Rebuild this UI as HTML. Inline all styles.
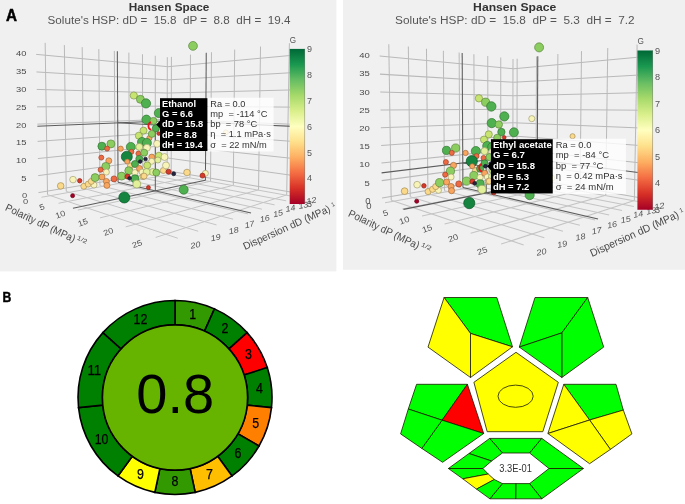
<!DOCTYPE html>
<html><head><meta charset="utf-8"><style>
html,body{margin:0;padding:0;background:#fff;}
body{width:685px;height:504px;overflow:hidden;position:relative;font-family:"Liberation Sans",sans-serif;}
svg.root{position:absolute;left:0;top:0;filter:blur(0.35px);}
svg.ch{filter:blur(0.3px);}
</style></head><body>
<svg class="root" width="685" height="504" viewBox="0 0 685 504" font-family="Liberation Sans, sans-serif">
<rect x="0" y="0" width="336.4" height="271.4" fill="#f0f0f0"/>
<rect x="343" y="0" width="342" height="269.8" fill="#f0f0f0"/>
<g>
<text x="169.1" y="10.9" font-size="10" fill="#333" font-weight="bold" text-anchor="middle" textLength="80.6" lengthAdjust="spacingAndGlyphs">Hansen Space</text>
<text x="47.6" y="23.6" font-size="10" fill="#555" textLength="242.8" lengthAdjust="spacingAndGlyphs" xml:space="preserve">Solute's HSP: dD =  15.8  dP =  8.8  dH =  19.4</text>
<svg class="ch" x="0" y="0" width="336" height="271" overflow="hidden">
<line x1="167.17" y1="173.78" x2="167.31" y2="57.16" stroke="#b9b9b9" stroke-width="1.0"/>
<line x1="155.32" y1="175.85" x2="155.27" y2="55.74" stroke="#b9b9b9" stroke-width="1.0"/>
<line x1="142.74" y1="178.05" x2="142.47" y2="54.24" stroke="#b9b9b9" stroke-width="1.0"/>
<line x1="129.37" y1="180.38" x2="128.86" y2="52.64" stroke="#b9b9b9" stroke-width="1.0"/>
<line x1="115.13" y1="182.87" x2="114.34" y2="50.94" stroke="#b9b9b9" stroke-width="1.0"/>
<line x1="99.93" y1="185.53" x2="98.82" y2="49.12" stroke="#b9b9b9" stroke-width="1.0"/>
<line x1="83.67" y1="188.37" x2="82.20" y2="47.17" stroke="#b9b9b9" stroke-width="1.0"/>
<line x1="66.24" y1="191.41" x2="64.36" y2="45.07" stroke="#b9b9b9" stroke-width="1.0"/>
<line x1="47.50" y1="194.68" x2="45.15" y2="42.82" stroke="#b9b9b9" stroke-width="1.0"/>
<line x1="167.95" y1="170.90" x2="38.48" y2="192.62" stroke="#b9b9b9" stroke-width="1.0"/>
<line x1="167.97" y1="158.04" x2="38.19" y2="175.63" stroke="#b9b9b9" stroke-width="1.0"/>
<line x1="167.99" y1="145.13" x2="37.90" y2="158.55" stroke="#b9b9b9" stroke-width="1.0"/>
<line x1="168.00" y1="132.18" x2="37.62" y2="141.39" stroke="#b9b9b9" stroke-width="1.0"/>
<line x1="168.02" y1="119.18" x2="37.33" y2="124.15" stroke="#b9b9b9" stroke-width="1.0"/>
<line x1="168.04" y1="106.13" x2="37.04" y2="106.83" stroke="#b9b9b9" stroke-width="1.0"/>
<line x1="168.06" y1="93.04" x2="36.75" y2="89.42" stroke="#b9b9b9" stroke-width="1.0"/>
<line x1="168.07" y1="79.90" x2="36.45" y2="71.93" stroke="#b9b9b9" stroke-width="1.0"/>
<line x1="168.09" y1="66.71" x2="36.16" y2="54.36" stroke="#b9b9b9" stroke-width="1.0"/>
<line x1="171.20" y1="174.23" x2="171.41" y2="56.87" stroke="#b9b9b9" stroke-width="1.0"/>
<line x1="189.95" y1="177.59" x2="190.48" y2="54.66" stroke="#b9b9b9" stroke-width="1.0"/>
<line x1="210.55" y1="181.27" x2="211.48" y2="52.23" stroke="#b9b9b9" stroke-width="1.0"/>
<line x1="233.29" y1="185.35" x2="234.70" y2="49.54" stroke="#b9b9b9" stroke-width="1.0"/>
<line x1="258.52" y1="189.86" x2="260.52" y2="46.55" stroke="#b9b9b9" stroke-width="1.0"/>
<line x1="286.69" y1="194.91" x2="289.40" y2="43.21" stroke="#b9b9b9" stroke-width="1.0"/>
<line x1="167.95" y1="170.90" x2="297.74" y2="193.24" stroke="#b9b9b9" stroke-width="1.0"/>
<line x1="167.97" y1="158.04" x2="298.07" y2="176.19" stroke="#b9b9b9" stroke-width="1.0"/>
<line x1="167.99" y1="145.13" x2="298.40" y2="159.06" stroke="#b9b9b9" stroke-width="1.0"/>
<line x1="168.00" y1="132.18" x2="298.73" y2="141.85" stroke="#b9b9b9" stroke-width="1.0"/>
<line x1="168.02" y1="119.18" x2="299.07" y2="124.56" stroke="#b9b9b9" stroke-width="1.0"/>
<line x1="168.04" y1="106.13" x2="299.41" y2="107.19" stroke="#b9b9b9" stroke-width="1.0"/>
<line x1="168.06" y1="93.04" x2="299.75" y2="89.73" stroke="#b9b9b9" stroke-width="1.0"/>
<line x1="168.07" y1="79.90" x2="300.09" y2="72.19" stroke="#b9b9b9" stroke-width="1.0"/>
<line x1="168.09" y1="66.71" x2="300.43" y2="54.56" stroke="#b9b9b9" stroke-width="1.0"/>
<line x1="167.17" y1="173.78" x2="296.97" y2="197.11" stroke="#c4c4c4" stroke-width="1.0"/>
<line x1="155.32" y1="175.85" x2="286.23" y2="200.82" stroke="#c4c4c4" stroke-width="1.0"/>
<line x1="142.74" y1="178.05" x2="274.59" y2="204.84" stroke="#c4c4c4" stroke-width="1.0"/>
<line x1="129.37" y1="180.38" x2="261.95" y2="209.20" stroke="#c4c4c4" stroke-width="1.0"/>
<line x1="115.13" y1="182.87" x2="248.17" y2="213.96" stroke="#c4c4c4" stroke-width="1.0"/>
<line x1="99.93" y1="185.53" x2="233.08" y2="219.17" stroke="#c4c4c4" stroke-width="1.0"/>
<line x1="83.67" y1="188.37" x2="216.49" y2="224.90" stroke="#c4c4c4" stroke-width="1.0"/>
<line x1="66.24" y1="191.41" x2="198.16" y2="231.23" stroke="#c4c4c4" stroke-width="1.0"/>
<line x1="47.50" y1="194.68" x2="177.81" y2="238.26" stroke="#c4c4c4" stroke-width="1.0"/>
<line x1="171.20" y1="174.23" x2="41.44" y2="197.27" stroke="#c4c4c4" stroke-width="1.0"/>
<line x1="189.95" y1="177.59" x2="58.48" y2="203.26" stroke="#c4c4c4" stroke-width="1.0"/>
<line x1="210.55" y1="181.27" x2="77.84" y2="210.07" stroke="#c4c4c4" stroke-width="1.0"/>
<line x1="233.29" y1="185.35" x2="100.01" y2="217.87" stroke="#c4c4c4" stroke-width="1.0"/>
<line x1="258.52" y1="189.86" x2="125.67" y2="226.89" stroke="#c4c4c4" stroke-width="1.0"/>
<line x1="286.69" y1="194.91" x2="155.70" y2="237.44" stroke="#c4c4c4" stroke-width="1.0"/>
<line x1="168.02" y1="120.74" x2="37.36" y2="126.23" stroke="#5c5c5c" stroke-width="1.05"/>
<line x1="118.06" y1="182.36" x2="117.32" y2="51.29" stroke="#5c5c5c" stroke-width="1.05"/>
<line x1="168.02" y1="120.74" x2="299.03" y2="126.64" stroke="#5c5c5c" stroke-width="1.05"/>
<line x1="205.42" y1="180.36" x2="206.25" y2="52.83" stroke="#5c5c5c" stroke-width="1.05"/>
<line x1="205.42" y1="180.36" x2="72.96" y2="208.35" stroke="#5c5c5c" stroke-width="1.05"/>
<line x1="118.06" y1="182.36" x2="251.03" y2="212.98" stroke="#5c5c5c" stroke-width="1.05"/>
<line x1="155.30" y1="125.02" x2="155.33" y2="190.94" stroke="#5c5c5c" stroke-width="1.05"/>
<line x1="155.30" y1="125.02" x2="117.72" y2="122.85" stroke="#5c5c5c" stroke-width="1.05"/>
<line x1="155.30" y1="125.02" x2="205.80" y2="122.44" stroke="#5c5c5c" stroke-width="1.05"/>
<circle cx="149.4" cy="138.1" r="2.60" fill="#f8a55e" stroke="#a36c3e" stroke-width="0.7"/>
<circle cx="193.0" cy="45.9" r="4.40" fill="#8ccd5f" stroke="#5c873e" stroke-width="0.7"/>
<circle cx="133.8" cy="95.5" r="3.60" fill="#c6e46f" stroke="#829649" stroke-width="0.7"/>
<circle cx="140.4" cy="99.3" r="4.00" fill="#8ccd5f" stroke="#5c873e" stroke-width="0.7"/>
<circle cx="146.0" cy="103.4" r="4.60" fill="#4fb04f" stroke="#347434" stroke-width="0.7"/>
<circle cx="158.8" cy="113.1" r="4.50" fill="#4fb04f" stroke="#347434" stroke-width="0.7"/>
<circle cx="185.8" cy="115.3" r="3.00" fill="#f8f4b8" stroke="#a3a179" stroke-width="0.7"/>
<circle cx="168.2" cy="128.6" r="4.40" fill="#4fb04f" stroke="#347434" stroke-width="0.7"/>
<circle cx="146.4" cy="119.6" r="4.50" fill="#4fb04f" stroke="#347434" stroke-width="0.7"/>
<circle cx="153.4" cy="121.0" r="3.60" fill="#8ccd5f" stroke="#5c873e" stroke-width="0.7"/>
<circle cx="155.9" cy="128.3" r="3.60" fill="#4fb04f" stroke="#347434" stroke-width="0.7"/>
<circle cx="143.5" cy="130.6" r="3.50" fill="#c6e46f" stroke="#829649" stroke-width="0.7"/>
<circle cx="158.7" cy="133.6" r="1.80" fill="#d83a2a" stroke="#8e261b" stroke-width="0.7"/>
<circle cx="138.8" cy="135.7" r="3.50" fill="#c6e46f" stroke="#829649" stroke-width="0.7"/>
<circle cx="151.8" cy="133.9" r="3.50" fill="#8ccd5f" stroke="#5c873e" stroke-width="0.7"/>
<circle cx="142.0" cy="142.0" r="4.50" fill="#4fb04f" stroke="#347434" stroke-width="0.7"/>
<circle cx="146.9" cy="142.9" r="4.50" fill="#4fb04f" stroke="#347434" stroke-width="0.7"/>
<circle cx="130.8" cy="146.9" r="4.50" fill="#4fb04f" stroke="#347434" stroke-width="0.7"/>
<circle cx="157.1" cy="143.8" r="3.50" fill="#f8f4b8" stroke="#a3a179" stroke-width="0.7"/>
<circle cx="139.3" cy="146.9" r="3.50" fill="#e2f09a" stroke="#959e65" stroke-width="0.7"/>
<circle cx="146.9" cy="147.8" r="3.50" fill="#f8f4b8" stroke="#a3a179" stroke-width="0.7"/>
<circle cx="110.9" cy="143.9" r="4.00" fill="#8ccd5f" stroke="#5c873e" stroke-width="0.7"/>
<circle cx="101.9" cy="146.2" r="4.00" fill="#4fb04f" stroke="#347434" stroke-width="0.7"/>
<circle cx="107.1" cy="148.6" r="2.50" fill="#ee6a42" stroke="#9d452b" stroke-width="0.7"/>
<circle cx="120.7" cy="148.7" r="2.60" fill="#f8a55e" stroke="#a36c3e" stroke-width="0.7"/>
<circle cx="131.4" cy="151.8" r="2.50" fill="#ee6a42" stroke="#9d452b" stroke-width="0.7"/>
<circle cx="138.4" cy="153.6" r="2.50" fill="#ee6a42" stroke="#9d452b" stroke-width="0.7"/>
<circle cx="144.2" cy="152.7" r="3.50" fill="#8ccd5f" stroke="#5c873e" stroke-width="0.7"/>
<circle cx="126.8" cy="156.7" r="5.50" fill="#14843f" stroke="#0d5729" stroke-width="0.7"/>
<circle cx="139.3" cy="158.9" r="3.50" fill="#4fb04f" stroke="#347434" stroke-width="0.7"/>
<circle cx="151.8" cy="157.1" r="3.00" fill="#f8a55e" stroke="#a36c3e" stroke-width="0.7"/>
<circle cx="151.7" cy="161.3" r="3.00" fill="#f8f4b8" stroke="#a3a179" stroke-width="0.7"/>
<circle cx="127.2" cy="161.6" r="2.50" fill="#f8a55e" stroke="#a36c3e" stroke-width="0.7"/>
<circle cx="108.8" cy="160.8" r="3.00" fill="#f8a55e" stroke="#a36c3e" stroke-width="0.7"/>
<circle cx="101.3" cy="157.6" r="2.50" fill="#ee6a42" stroke="#9d452b" stroke-width="0.7"/>
<circle cx="105.8" cy="166.4" r="4.00" fill="#8ccd5f" stroke="#5c873e" stroke-width="0.7"/>
<circle cx="130.4" cy="166.1" r="3.00" fill="#fbd98a" stroke="#a58f5b" stroke-width="0.7"/>
<circle cx="147.2" cy="165.4" r="3.50" fill="#c6e46f" stroke="#829649" stroke-width="0.7"/>
<circle cx="158.9" cy="155.7" r="3.50" fill="#c6e46f" stroke="#829649" stroke-width="0.7"/>
<circle cx="164.5" cy="157.0" r="3.50" fill="#f8f4b8" stroke="#a3a179" stroke-width="0.7"/>
<circle cx="157.9" cy="160.0" r="3.00" fill="#e2f09a" stroke="#959e65" stroke-width="0.7"/>
<circle cx="135.0" cy="164.0" r="3.50" fill="#4fb04f" stroke="#347434" stroke-width="0.7"/>
<circle cx="60.7" cy="185.9" r="3.30" fill="#fbd98a" stroke="#a58f5b" stroke-width="0.7"/>
<circle cx="73.0" cy="179.6" r="3.30" fill="#f8f4b8" stroke="#a3a179" stroke-width="0.7"/>
<circle cx="79.7" cy="180.7" r="2.20" fill="#d83a2a" stroke="#8e261b" stroke-width="0.7"/>
<circle cx="72.6" cy="195.7" r="2.00" fill="#a50026" stroke="#6c0019" stroke-width="0.7"/>
<circle cx="83.8" cy="186.3" r="3.00" fill="#fbd98a" stroke="#a58f5b" stroke-width="0.7"/>
<circle cx="88.2" cy="184.1" r="3.00" fill="#fbd98a" stroke="#a58f5b" stroke-width="0.7"/>
<circle cx="94.0" cy="185.0" r="3.00" fill="#f8f4b8" stroke="#a3a179" stroke-width="0.7"/>
<circle cx="91.3" cy="181.4" r="3.00" fill="#fbd98a" stroke="#a58f5b" stroke-width="0.7"/>
<circle cx="95.1" cy="177.6" r="4.00" fill="#8ccd5f" stroke="#5c873e" stroke-width="0.7"/>
<circle cx="100.6" cy="169.8" r="2.50" fill="#ee6a42" stroke="#9d452b" stroke-width="0.7"/>
<circle cx="106.4" cy="172.1" r="3.00" fill="#f8f4b8" stroke="#a3a179" stroke-width="0.7"/>
<circle cx="102.0" cy="177.0" r="3.00" fill="#f8a55e" stroke="#a36c3e" stroke-width="0.7"/>
<circle cx="106.4" cy="181.4" r="3.00" fill="#f8a55e" stroke="#a36c3e" stroke-width="0.7"/>
<circle cx="106.9" cy="185.4" r="3.00" fill="#f8a55e" stroke="#a36c3e" stroke-width="0.7"/>
<circle cx="114.0" cy="178.9" r="3.00" fill="#ee6a42" stroke="#9d452b" stroke-width="0.7"/>
<circle cx="121.6" cy="176.1" r="4.00" fill="#8ccd5f" stroke="#5c873e" stroke-width="0.7"/>
<circle cx="128.8" cy="170.7" r="4.00" fill="#8ccd5f" stroke="#5c873e" stroke-width="0.7"/>
<circle cx="135.0" cy="172.5" r="3.00" fill="#f8f4b8" stroke="#a3a179" stroke-width="0.7"/>
<circle cx="139.5" cy="168.5" r="3.00" fill="#f8a55e" stroke="#a36c3e" stroke-width="0.7"/>
<circle cx="142.1" cy="172.1" r="3.00" fill="#f8f4b8" stroke="#a3a179" stroke-width="0.7"/>
<circle cx="143.0" cy="176.5" r="3.00" fill="#fbd98a" stroke="#a58f5b" stroke-width="0.7"/>
<circle cx="135.0" cy="178.8" r="4.00" fill="#4fb04f" stroke="#347434" stroke-width="0.7"/>
<circle cx="136.8" cy="184.1" r="4.00" fill="#e2f09a" stroke="#959e65" stroke-width="0.7"/>
<circle cx="127.4" cy="176.5" r="2.50" fill="#d83a2a" stroke="#8e261b" stroke-width="0.7"/>
<circle cx="152.8" cy="172.0" r="3.50" fill="#e2f09a" stroke="#959e65" stroke-width="0.7"/>
<circle cx="156.3" cy="172.5" r="3.50" fill="#8ccd5f" stroke="#5c873e" stroke-width="0.7"/>
<circle cx="146.6" cy="172.0" r="3.50" fill="#e2f09a" stroke="#959e65" stroke-width="0.7"/>
<circle cx="144.1" cy="176.1" r="3.00" fill="#fbd98a" stroke="#a58f5b" stroke-width="0.7"/>
<circle cx="163.3" cy="170.5" r="3.00" fill="#fbd98a" stroke="#a58f5b" stroke-width="0.7"/>
<circle cx="166.0" cy="165.4" r="3.50" fill="#f8f4b8" stroke="#a3a179" stroke-width="0.7"/>
<circle cx="168.6" cy="171.7" r="2.50" fill="#d83a2a" stroke="#8e261b" stroke-width="0.7"/>
<circle cx="173.7" cy="173.7" r="2.00" fill="#252540" stroke="#18182a" stroke-width="0.7"/>
<circle cx="187.0" cy="172.5" r="3.30" fill="#fbd98a" stroke="#a58f5b" stroke-width="0.7"/>
<circle cx="205.4" cy="173.3" r="3.00" fill="#f8f4b8" stroke="#a3a179" stroke-width="0.7"/>
<circle cx="202.5" cy="175.6" r="2.50" fill="#d83a2a" stroke="#8e261b" stroke-width="0.7"/>
<circle cx="124.3" cy="197.5" r="5.50" fill="#14843f" stroke="#0d5729" stroke-width="0.7"/>
<circle cx="183.7" cy="189.7" r="4.50" fill="#4fb04f" stroke="#347434" stroke-width="0.7"/>
<circle cx="148.4" cy="187.6" r="2.00" fill="#d83a2a" stroke="#8e261b" stroke-width="0.7"/>
<circle cx="145.5" cy="159.0" r="1.80" fill="#252540" stroke="#18182a" stroke-width="0.7"/>
<circle cx="140.2" cy="161.6" r="1.80" fill="#252540" stroke="#18182a" stroke-width="0.7"/>
<circle cx="129.6" cy="178.3" r="1.80" fill="#252540" stroke="#18182a" stroke-width="0.7"/>
<circle cx="225.9" cy="132.4" r="2.50" fill="#fbd98a" stroke="#a58f5b" stroke-width="0.7"/>
<path d="M151.03,122.16 A4.0,4.0 0 0 0 151.36,129.79" fill="none" stroke="#e8141c" stroke-width="1.7"/>
<text x="26.4" y="56.1" font-size="7.8" fill="#4a4a4a" text-anchor="end" textLength="10.4" lengthAdjust="spacingAndGlyphs">40</text>
<text x="26.4" y="74.1" font-size="7.8" fill="#4a4a4a" text-anchor="end" textLength="10.4" lengthAdjust="spacingAndGlyphs">35</text>
<text x="26.4" y="91.8" font-size="7.8" fill="#4a4a4a" text-anchor="end" textLength="10.4" lengthAdjust="spacingAndGlyphs">30</text>
<text x="26.4" y="109.6" font-size="7.8" fill="#4a4a4a" text-anchor="end" textLength="10.4" lengthAdjust="spacingAndGlyphs">25</text>
<text x="26.4" y="127.7" font-size="7.8" fill="#4a4a4a" text-anchor="end" textLength="10.4" lengthAdjust="spacingAndGlyphs">20</text>
<text x="26.4" y="145.1" font-size="7.8" fill="#4a4a4a" text-anchor="end" textLength="10.4" lengthAdjust="spacingAndGlyphs">15</text>
<text x="26.4" y="162.8" font-size="7.8" fill="#4a4a4a" text-anchor="end" textLength="10.4" lengthAdjust="spacingAndGlyphs">10</text>
<text x="26.4" y="180.7" font-size="7.8" fill="#4a4a4a" text-anchor="end" textLength="5.2" lengthAdjust="spacingAndGlyphs">5</text>
<text transform="translate(42.9,209.7) rotate(-20)" font-size="8.0" fill="#555" text-anchor="middle" textLength="5.1" lengthAdjust="spacingAndGlyphs">5</text>
<text transform="translate(61.3,216.9) rotate(-20)" font-size="8.0" fill="#555" text-anchor="middle" textLength="10.2" lengthAdjust="spacingAndGlyphs">10</text>
<text transform="translate(83.8,225.0) rotate(-20)" font-size="8.0" fill="#555" text-anchor="middle" textLength="10.2" lengthAdjust="spacingAndGlyphs">15</text>
<text transform="translate(109.3,234.2) rotate(-20)" font-size="8.0" fill="#555" text-anchor="middle" textLength="10.2" lengthAdjust="spacingAndGlyphs">20</text>
<text transform="translate(138.0,246.5) rotate(-20)" font-size="8.0" fill="#555" text-anchor="middle" textLength="10.2" lengthAdjust="spacingAndGlyphs">25</text>
<text transform="translate(195.9,247.7) rotate(-12)" font-size="8.0" fill="#555" text-anchor="middle" textLength="10.0" lengthAdjust="spacingAndGlyphs" font-style="italic">20</text>
<text transform="translate(216.2,240.2) rotate(-12)" font-size="8.0" fill="#555" text-anchor="middle" textLength="10.0" lengthAdjust="spacingAndGlyphs" font-style="italic">19</text>
<text transform="translate(234.2,233.2) rotate(-12)" font-size="8.0" fill="#555" text-anchor="middle" textLength="10.0" lengthAdjust="spacingAndGlyphs" font-style="italic">18</text>
<text transform="translate(250.1,227.1) rotate(-12)" font-size="8.0" fill="#555" text-anchor="middle" textLength="10.0" lengthAdjust="spacingAndGlyphs" font-style="italic">17</text>
<text transform="translate(265.3,221.3) rotate(-12)" font-size="8.0" fill="#555" text-anchor="middle" textLength="10.0" lengthAdjust="spacingAndGlyphs" font-style="italic">16</text>
<text transform="translate(278.6,216.1) rotate(-12)" font-size="8.0" fill="#555" text-anchor="middle" textLength="10.0" lengthAdjust="spacingAndGlyphs" font-style="italic">15</text>
<text transform="translate(291.0,211.0) rotate(-12)" font-size="8.0" fill="#555" text-anchor="middle" textLength="10.0" lengthAdjust="spacingAndGlyphs" font-style="italic">14</text>
<text transform="translate(303.8,207.9) rotate(-12)" font-size="8.0" fill="#555" text-anchor="middle" textLength="10.0" lengthAdjust="spacingAndGlyphs" font-style="italic">13</text>
<text transform="translate(312.0,203.3) rotate(-12)" font-size="8.0" fill="#555" text-anchor="middle" textLength="10.0" lengthAdjust="spacingAndGlyphs" font-style="italic">12</text>
<text transform="translate(24.5,198.3) rotate(0)" font-size="8.0" fill="#555" text-anchor="middle" textLength="5.2" lengthAdjust="spacingAndGlyphs">0</text>
<text transform="translate(25.5,203.5) rotate(0)" font-size="8.0" fill="#555" text-anchor="middle" textLength="5.2" lengthAdjust="spacingAndGlyphs">0</text>
<text transform="translate(4.6,210.0) rotate(25.3)" font-size="10.4" fill="#4a4a4a" textLength="76.0" lengthAdjust="spacingAndGlyphs">Polarity dP (MPa)</text>
<text transform="translate(76.6,239.3) rotate(25.3)" font-size="6.0" fill="#4a4a4a" textLength="10.5" lengthAdjust="spacingAndGlyphs">1/2</text>
<text transform="translate(245.0,250.0) rotate(-24.2)" font-size="10.4" fill="#4a4a4a" textLength="94.5" lengthAdjust="spacingAndGlyphs">Dispersion dD (MPa)</text>
<text transform="translate(332.2,207.0) rotate(-24.2)" font-size="6.0" fill="#4a4a4a">1</text>
<defs><linearGradient id="cbL" x1="0" y1="1" x2="0" y2="0">
<stop offset="0.00" stop-color="#a50026"/>
<stop offset="0.10" stop-color="#d73027"/>
<stop offset="0.20" stop-color="#f46d43"/>
<stop offset="0.30" stop-color="#fdae61"/>
<stop offset="0.40" stop-color="#fee08b"/>
<stop offset="0.50" stop-color="#ffffbf"/>
<stop offset="0.60" stop-color="#d9ef8b"/>
<stop offset="0.70" stop-color="#a6d96a"/>
<stop offset="0.80" stop-color="#66bd63"/>
<stop offset="0.90" stop-color="#1a9850"/>
<stop offset="1.00" stop-color="#006837"/>
</linearGradient></defs>
<rect x="289.7" y="48.9" width="15.2" height="155.1" fill="url(#cbL)" stroke="none"/>
<line x1="304.6" y1="48.9" x2="304.6" y2="204" stroke="#6a6a6a" stroke-width="0.6" stroke-opacity="0.7"/>
<text x="307.0" y="207.2" font-size="8.8" fill="#555" textLength="5.0" lengthAdjust="spacingAndGlyphs">3</text>
<text x="307.0" y="181.3" font-size="8.8" fill="#555" textLength="5.0" lengthAdjust="spacingAndGlyphs">4</text>
<text x="307.0" y="155.5" font-size="8.8" fill="#555" textLength="5.0" lengthAdjust="spacingAndGlyphs">5</text>
<text x="307.0" y="129.7" font-size="8.8" fill="#555" textLength="5.0" lengthAdjust="spacingAndGlyphs">6</text>
<text x="307.0" y="103.8" font-size="8.8" fill="#555" textLength="5.0" lengthAdjust="spacingAndGlyphs">7</text>
<text x="307.0" y="78.0" font-size="8.8" fill="#555" textLength="5.0" lengthAdjust="spacingAndGlyphs">8</text>
<text x="307.0" y="52.1" font-size="8.8" fill="#555" textLength="5.0" lengthAdjust="spacingAndGlyphs">9</text>
<text x="289.8" y="42.9" font-size="8.8" fill="#555" textLength="6.3" lengthAdjust="spacingAndGlyphs">G</text>
<rect x="207.4" y="97.7" width="66.2" height="53.8" fill="#ffffff" fill-opacity="0.8"/>
<rect x="160.0" y="98.2" width="47.4" height="52.8" fill="#000"/>
<polygon points="156.2,124.6 160.2,120.6 160.2,128.6" fill="#000"/>
<text x="162.0" y="106.5" font-size="9.0" fill="#fff" font-weight="bold" textLength="34.1" lengthAdjust="spacingAndGlyphs">Ethanol</text>
<text x="162.0" y="116.9" font-size="9.0" fill="#fff" font-weight="bold" textLength="31.1" lengthAdjust="spacingAndGlyphs">G = 6.6</text>
<text x="162.0" y="127.2" font-size="9.0" fill="#fff" font-weight="bold" textLength="41.3" lengthAdjust="spacingAndGlyphs">dD = 15.8</text>
<text x="162.0" y="137.6" font-size="9.0" fill="#fff" font-weight="bold" textLength="34.9" lengthAdjust="spacingAndGlyphs">dP = 8.8</text>
<text x="162.0" y="147.9" font-size="9.0" fill="#fff" font-weight="bold" textLength="40.6" lengthAdjust="spacingAndGlyphs">dH = 19.4</text>
<text x="210.3" y="106.6" font-size="9.0" fill="#333" textLength="35.1" lengthAdjust="spacingAndGlyphs" xml:space="preserve">Ra = 0.0</text>
<text x="210.3" y="116.9" font-size="9.0" fill="#333" textLength="57.1" lengthAdjust="spacingAndGlyphs" xml:space="preserve">mp  = -114 °C</text>
<text x="210.3" y="127.1" font-size="9.0" fill="#333" textLength="47.0" lengthAdjust="spacingAndGlyphs" xml:space="preserve">bp  = 78 °C</text>
<text x="210.3" y="137.4" font-size="9.0" fill="#333" textLength="60.7" lengthAdjust="spacingAndGlyphs" xml:space="preserve">η  = 1.1 mPa·s</text>
<text x="210.3" y="147.6" font-size="9.0" fill="#333" textLength="56.5" lengthAdjust="spacingAndGlyphs" xml:space="preserve">σ  = 22 mN/m</text>
</svg>
</g>
<text x="514.7" y="10.9" font-size="10" fill="#333" font-weight="bold" text-anchor="middle" textLength="83.2" lengthAdjust="spacingAndGlyphs">Hansen Space</text>
<text x="395.1" y="23.6" font-size="10" fill="#555" textLength="239.6" lengthAdjust="spacingAndGlyphs" xml:space="preserve">Solute's HSP: dD =  15.8  dP =  5.3  dH =  7.2</text>
<svg class="ch" x="343" y="0" width="342" height="269.5" viewBox="343 0 342 269.5" overflow="hidden">
<g transform="matrix(1.0166,0,0,1.027,342.9,0.25)">
<line x1="167.17" y1="173.78" x2="167.31" y2="57.16" stroke="#b9b9b9" stroke-width="1.0"/>
<line x1="155.32" y1="175.85" x2="155.27" y2="55.74" stroke="#b9b9b9" stroke-width="1.0"/>
<line x1="142.74" y1="178.05" x2="142.47" y2="54.24" stroke="#b9b9b9" stroke-width="1.0"/>
<line x1="129.37" y1="180.38" x2="128.86" y2="52.64" stroke="#b9b9b9" stroke-width="1.0"/>
<line x1="115.13" y1="182.87" x2="114.34" y2="50.94" stroke="#b9b9b9" stroke-width="1.0"/>
<line x1="99.93" y1="185.53" x2="98.82" y2="49.12" stroke="#b9b9b9" stroke-width="1.0"/>
<line x1="83.67" y1="188.37" x2="82.20" y2="47.17" stroke="#b9b9b9" stroke-width="1.0"/>
<line x1="66.24" y1="191.41" x2="64.36" y2="45.07" stroke="#b9b9b9" stroke-width="1.0"/>
<line x1="47.50" y1="194.68" x2="45.15" y2="42.82" stroke="#b9b9b9" stroke-width="1.0"/>
<line x1="167.95" y1="170.90" x2="38.48" y2="192.62" stroke="#b9b9b9" stroke-width="1.0"/>
<line x1="167.97" y1="158.04" x2="38.19" y2="175.63" stroke="#b9b9b9" stroke-width="1.0"/>
<line x1="167.99" y1="145.13" x2="37.90" y2="158.55" stroke="#b9b9b9" stroke-width="1.0"/>
<line x1="168.00" y1="132.18" x2="37.62" y2="141.39" stroke="#b9b9b9" stroke-width="1.0"/>
<line x1="168.02" y1="119.18" x2="37.33" y2="124.15" stroke="#b9b9b9" stroke-width="1.0"/>
<line x1="168.04" y1="106.13" x2="37.04" y2="106.83" stroke="#b9b9b9" stroke-width="1.0"/>
<line x1="168.06" y1="93.04" x2="36.75" y2="89.42" stroke="#b9b9b9" stroke-width="1.0"/>
<line x1="168.07" y1="79.90" x2="36.45" y2="71.93" stroke="#b9b9b9" stroke-width="1.0"/>
<line x1="168.09" y1="66.71" x2="36.16" y2="54.36" stroke="#b9b9b9" stroke-width="1.0"/>
<line x1="171.20" y1="174.23" x2="171.41" y2="56.87" stroke="#b9b9b9" stroke-width="1.0"/>
<line x1="189.95" y1="177.59" x2="190.48" y2="54.66" stroke="#b9b9b9" stroke-width="1.0"/>
<line x1="210.55" y1="181.27" x2="211.48" y2="52.23" stroke="#b9b9b9" stroke-width="1.0"/>
<line x1="233.29" y1="185.35" x2="234.70" y2="49.54" stroke="#b9b9b9" stroke-width="1.0"/>
<line x1="258.52" y1="189.86" x2="260.52" y2="46.55" stroke="#b9b9b9" stroke-width="1.0"/>
<line x1="286.69" y1="194.91" x2="289.40" y2="43.21" stroke="#b9b9b9" stroke-width="1.0"/>
<line x1="167.95" y1="170.90" x2="297.74" y2="193.24" stroke="#b9b9b9" stroke-width="1.0"/>
<line x1="167.97" y1="158.04" x2="298.07" y2="176.19" stroke="#b9b9b9" stroke-width="1.0"/>
<line x1="167.99" y1="145.13" x2="298.40" y2="159.06" stroke="#b9b9b9" stroke-width="1.0"/>
<line x1="168.00" y1="132.18" x2="298.73" y2="141.85" stroke="#b9b9b9" stroke-width="1.0"/>
<line x1="168.02" y1="119.18" x2="299.07" y2="124.56" stroke="#b9b9b9" stroke-width="1.0"/>
<line x1="168.04" y1="106.13" x2="299.41" y2="107.19" stroke="#b9b9b9" stroke-width="1.0"/>
<line x1="168.06" y1="93.04" x2="299.75" y2="89.73" stroke="#b9b9b9" stroke-width="1.0"/>
<line x1="168.07" y1="79.90" x2="300.09" y2="72.19" stroke="#b9b9b9" stroke-width="1.0"/>
<line x1="168.09" y1="66.71" x2="300.43" y2="54.56" stroke="#b9b9b9" stroke-width="1.0"/>
<line x1="167.17" y1="173.78" x2="296.97" y2="197.11" stroke="#c4c4c4" stroke-width="1.0"/>
<line x1="155.32" y1="175.85" x2="286.23" y2="200.82" stroke="#c4c4c4" stroke-width="1.0"/>
<line x1="142.74" y1="178.05" x2="274.59" y2="204.84" stroke="#c4c4c4" stroke-width="1.0"/>
<line x1="129.37" y1="180.38" x2="261.95" y2="209.20" stroke="#c4c4c4" stroke-width="1.0"/>
<line x1="115.13" y1="182.87" x2="248.17" y2="213.96" stroke="#c4c4c4" stroke-width="1.0"/>
<line x1="99.93" y1="185.53" x2="233.08" y2="219.17" stroke="#c4c4c4" stroke-width="1.0"/>
<line x1="83.67" y1="188.37" x2="216.49" y2="224.90" stroke="#c4c4c4" stroke-width="1.0"/>
<line x1="66.24" y1="191.41" x2="198.16" y2="231.23" stroke="#c4c4c4" stroke-width="1.0"/>
<line x1="47.50" y1="194.68" x2="177.81" y2="238.26" stroke="#c4c4c4" stroke-width="1.0"/>
<line x1="171.20" y1="174.23" x2="41.44" y2="197.27" stroke="#c4c4c4" stroke-width="1.0"/>
<line x1="189.95" y1="177.59" x2="58.48" y2="203.26" stroke="#c4c4c4" stroke-width="1.0"/>
<line x1="210.55" y1="181.27" x2="77.84" y2="210.07" stroke="#c4c4c4" stroke-width="1.0"/>
<line x1="233.29" y1="185.35" x2="100.01" y2="217.87" stroke="#c4c4c4" stroke-width="1.0"/>
<line x1="258.52" y1="189.86" x2="125.67" y2="226.89" stroke="#c4c4c4" stroke-width="1.0"/>
<line x1="286.69" y1="194.91" x2="155.70" y2="237.44" stroke="#c4c4c4" stroke-width="1.0"/>
<line x1="167.98" y1="152.37" x2="38.06" y2="168.12" stroke="#5c5c5c" stroke-width="1.05"/>
<line x1="118.06" y1="182.36" x2="117.32" y2="51.29" stroke="#5c5c5c" stroke-width="1.05"/>
<line x1="167.98" y1="152.37" x2="298.21" y2="168.66" stroke="#5c5c5c" stroke-width="1.05"/>
<line x1="191.13" y1="177.80" x2="191.69" y2="54.52" stroke="#5c5c5c" stroke-width="1.05"/>
<line x1="191.13" y1="177.80" x2="59.57" y2="203.65" stroke="#5c5c5c" stroke-width="1.05"/>
<line x1="118.06" y1="182.36" x2="251.03" y2="212.98" stroke="#5c5c5c" stroke-width="1.05"/>
<line x1="140.94" y1="162.14" x2="141.01" y2="187.65" stroke="#5c5c5c" stroke-width="1.05"/>
<line x1="140.94" y1="162.14" x2="117.92" y2="158.44" stroke="#5c5c5c" stroke-width="1.05"/>
<line x1="140.94" y1="162.14" x2="191.23" y2="155.28" stroke="#5c5c5c" stroke-width="1.05"/>
<circle cx="149.4" cy="138.1" r="2.60" fill="#f8a55e" stroke="#a36c3e" stroke-width="0.7"/>
<circle cx="193.0" cy="45.9" r="4.40" fill="#8ccd5f" stroke="#5c873e" stroke-width="0.7"/>
<circle cx="133.8" cy="95.5" r="3.60" fill="#c6e46f" stroke="#829649" stroke-width="0.7"/>
<circle cx="140.4" cy="99.3" r="4.00" fill="#8ccd5f" stroke="#5c873e" stroke-width="0.7"/>
<circle cx="146.0" cy="103.4" r="4.60" fill="#4fb04f" stroke="#347434" stroke-width="0.7"/>
<circle cx="158.8" cy="113.1" r="4.50" fill="#4fb04f" stroke="#347434" stroke-width="0.7"/>
<circle cx="185.8" cy="115.3" r="3.00" fill="#f8f4b8" stroke="#a3a179" stroke-width="0.7"/>
<circle cx="168.2" cy="128.6" r="4.40" fill="#4fb04f" stroke="#347434" stroke-width="0.7"/>
<circle cx="146.4" cy="119.6" r="4.50" fill="#4fb04f" stroke="#347434" stroke-width="0.7"/>
<circle cx="153.4" cy="121.0" r="3.60" fill="#8ccd5f" stroke="#5c873e" stroke-width="0.7"/>
<circle cx="155.9" cy="128.3" r="3.60" fill="#4fb04f" stroke="#347434" stroke-width="0.7"/>
<circle cx="143.5" cy="130.6" r="3.50" fill="#c6e46f" stroke="#829649" stroke-width="0.7"/>
<circle cx="158.7" cy="133.6" r="1.80" fill="#d83a2a" stroke="#8e261b" stroke-width="0.7"/>
<circle cx="138.8" cy="135.7" r="3.50" fill="#c6e46f" stroke="#829649" stroke-width="0.7"/>
<circle cx="151.8" cy="133.9" r="3.50" fill="#8ccd5f" stroke="#5c873e" stroke-width="0.7"/>
<circle cx="142.0" cy="142.0" r="4.50" fill="#4fb04f" stroke="#347434" stroke-width="0.7"/>
<circle cx="146.9" cy="142.9" r="4.50" fill="#4fb04f" stroke="#347434" stroke-width="0.7"/>
<circle cx="130.8" cy="146.9" r="4.50" fill="#4fb04f" stroke="#347434" stroke-width="0.7"/>
<circle cx="157.1" cy="143.8" r="3.50" fill="#f8f4b8" stroke="#a3a179" stroke-width="0.7"/>
<circle cx="139.3" cy="146.9" r="3.50" fill="#e2f09a" stroke="#959e65" stroke-width="0.7"/>
<circle cx="146.9" cy="147.8" r="3.50" fill="#f8f4b8" stroke="#a3a179" stroke-width="0.7"/>
<circle cx="110.9" cy="143.9" r="4.00" fill="#8ccd5f" stroke="#5c873e" stroke-width="0.7"/>
<circle cx="101.9" cy="146.2" r="4.00" fill="#4fb04f" stroke="#347434" stroke-width="0.7"/>
<circle cx="107.1" cy="148.6" r="2.50" fill="#ee6a42" stroke="#9d452b" stroke-width="0.7"/>
<circle cx="120.7" cy="148.7" r="2.60" fill="#f8a55e" stroke="#a36c3e" stroke-width="0.7"/>
<circle cx="131.4" cy="151.8" r="2.50" fill="#ee6a42" stroke="#9d452b" stroke-width="0.7"/>
<circle cx="138.4" cy="153.6" r="2.50" fill="#ee6a42" stroke="#9d452b" stroke-width="0.7"/>
<circle cx="144.2" cy="152.7" r="3.50" fill="#8ccd5f" stroke="#5c873e" stroke-width="0.7"/>
<circle cx="126.8" cy="156.7" r="5.50" fill="#14843f" stroke="#0d5729" stroke-width="0.7"/>
<circle cx="139.3" cy="158.9" r="3.50" fill="#4fb04f" stroke="#347434" stroke-width="0.7"/>
<circle cx="151.8" cy="157.1" r="3.00" fill="#f8a55e" stroke="#a36c3e" stroke-width="0.7"/>
<circle cx="151.7" cy="161.3" r="3.00" fill="#f8f4b8" stroke="#a3a179" stroke-width="0.7"/>
<circle cx="127.2" cy="161.6" r="2.50" fill="#f8a55e" stroke="#a36c3e" stroke-width="0.7"/>
<circle cx="108.8" cy="160.8" r="3.00" fill="#f8a55e" stroke="#a36c3e" stroke-width="0.7"/>
<circle cx="101.3" cy="157.6" r="2.50" fill="#ee6a42" stroke="#9d452b" stroke-width="0.7"/>
<circle cx="105.8" cy="166.4" r="4.00" fill="#8ccd5f" stroke="#5c873e" stroke-width="0.7"/>
<circle cx="130.4" cy="166.1" r="3.00" fill="#fbd98a" stroke="#a58f5b" stroke-width="0.7"/>
<circle cx="147.2" cy="165.4" r="3.50" fill="#c6e46f" stroke="#829649" stroke-width="0.7"/>
<circle cx="158.9" cy="155.7" r="3.50" fill="#c6e46f" stroke="#829649" stroke-width="0.7"/>
<circle cx="164.5" cy="157.0" r="3.50" fill="#f8f4b8" stroke="#a3a179" stroke-width="0.7"/>
<circle cx="157.9" cy="160.0" r="3.00" fill="#e2f09a" stroke="#959e65" stroke-width="0.7"/>
<circle cx="135.0" cy="164.0" r="3.50" fill="#4fb04f" stroke="#347434" stroke-width="0.7"/>
<circle cx="60.7" cy="185.9" r="3.30" fill="#fbd98a" stroke="#a58f5b" stroke-width="0.7"/>
<circle cx="73.0" cy="179.6" r="3.30" fill="#f8f4b8" stroke="#a3a179" stroke-width="0.7"/>
<circle cx="79.7" cy="180.7" r="2.20" fill="#d83a2a" stroke="#8e261b" stroke-width="0.7"/>
<circle cx="72.6" cy="195.7" r="2.00" fill="#a50026" stroke="#6c0019" stroke-width="0.7"/>
<circle cx="83.8" cy="186.3" r="3.00" fill="#fbd98a" stroke="#a58f5b" stroke-width="0.7"/>
<circle cx="88.2" cy="184.1" r="3.00" fill="#fbd98a" stroke="#a58f5b" stroke-width="0.7"/>
<circle cx="94.0" cy="185.0" r="3.00" fill="#f8f4b8" stroke="#a3a179" stroke-width="0.7"/>
<circle cx="91.3" cy="181.4" r="3.00" fill="#fbd98a" stroke="#a58f5b" stroke-width="0.7"/>
<circle cx="95.1" cy="177.6" r="4.00" fill="#8ccd5f" stroke="#5c873e" stroke-width="0.7"/>
<circle cx="100.6" cy="169.8" r="2.50" fill="#ee6a42" stroke="#9d452b" stroke-width="0.7"/>
<circle cx="106.4" cy="172.1" r="3.00" fill="#f8f4b8" stroke="#a3a179" stroke-width="0.7"/>
<circle cx="102.0" cy="177.0" r="3.00" fill="#f8a55e" stroke="#a36c3e" stroke-width="0.7"/>
<circle cx="106.4" cy="181.4" r="3.00" fill="#f8a55e" stroke="#a36c3e" stroke-width="0.7"/>
<circle cx="106.9" cy="185.4" r="3.00" fill="#f8a55e" stroke="#a36c3e" stroke-width="0.7"/>
<circle cx="114.0" cy="178.9" r="3.00" fill="#ee6a42" stroke="#9d452b" stroke-width="0.7"/>
<circle cx="121.6" cy="176.1" r="4.00" fill="#8ccd5f" stroke="#5c873e" stroke-width="0.7"/>
<circle cx="128.8" cy="170.7" r="4.00" fill="#8ccd5f" stroke="#5c873e" stroke-width="0.7"/>
<circle cx="135.0" cy="172.5" r="3.00" fill="#f8f4b8" stroke="#a3a179" stroke-width="0.7"/>
<circle cx="139.5" cy="168.5" r="3.00" fill="#f8a55e" stroke="#a36c3e" stroke-width="0.7"/>
<circle cx="142.1" cy="172.1" r="3.00" fill="#f8f4b8" stroke="#a3a179" stroke-width="0.7"/>
<circle cx="143.0" cy="176.5" r="3.00" fill="#fbd98a" stroke="#a58f5b" stroke-width="0.7"/>
<circle cx="135.0" cy="178.8" r="4.00" fill="#4fb04f" stroke="#347434" stroke-width="0.7"/>
<circle cx="136.8" cy="184.1" r="4.00" fill="#e2f09a" stroke="#959e65" stroke-width="0.7"/>
<circle cx="127.4" cy="176.5" r="2.50" fill="#d83a2a" stroke="#8e261b" stroke-width="0.7"/>
<circle cx="152.8" cy="172.0" r="3.50" fill="#e2f09a" stroke="#959e65" stroke-width="0.7"/>
<circle cx="156.3" cy="172.5" r="3.50" fill="#8ccd5f" stroke="#5c873e" stroke-width="0.7"/>
<circle cx="146.6" cy="172.0" r="3.50" fill="#e2f09a" stroke="#959e65" stroke-width="0.7"/>
<circle cx="144.1" cy="176.1" r="3.00" fill="#fbd98a" stroke="#a58f5b" stroke-width="0.7"/>
<circle cx="163.3" cy="170.5" r="3.00" fill="#fbd98a" stroke="#a58f5b" stroke-width="0.7"/>
<circle cx="166.0" cy="165.4" r="3.50" fill="#f8f4b8" stroke="#a3a179" stroke-width="0.7"/>
<circle cx="168.6" cy="171.7" r="2.50" fill="#d83a2a" stroke="#8e261b" stroke-width="0.7"/>
<circle cx="173.7" cy="173.7" r="2.00" fill="#252540" stroke="#18182a" stroke-width="0.7"/>
<circle cx="187.0" cy="172.5" r="3.30" fill="#fbd98a" stroke="#a58f5b" stroke-width="0.7"/>
<circle cx="205.4" cy="173.3" r="3.00" fill="#f8f4b8" stroke="#a3a179" stroke-width="0.7"/>
<circle cx="202.5" cy="175.6" r="2.50" fill="#d83a2a" stroke="#8e261b" stroke-width="0.7"/>
<circle cx="124.3" cy="197.5" r="5.50" fill="#14843f" stroke="#0d5729" stroke-width="0.7"/>
<circle cx="183.7" cy="189.7" r="4.50" fill="#4fb04f" stroke="#347434" stroke-width="0.7"/>
<circle cx="148.4" cy="187.6" r="2.00" fill="#d83a2a" stroke="#8e261b" stroke-width="0.7"/>
<circle cx="145.5" cy="159.0" r="1.80" fill="#252540" stroke="#18182a" stroke-width="0.7"/>
<circle cx="140.2" cy="161.6" r="1.80" fill="#252540" stroke="#18182a" stroke-width="0.7"/>
<circle cx="129.6" cy="178.3" r="1.80" fill="#252540" stroke="#18182a" stroke-width="0.7"/>
<circle cx="225.9" cy="132.4" r="2.50" fill="#fbd98a" stroke="#a58f5b" stroke-width="0.7"/>
<path d="M136.68,159.28 A4.0,4.0 0 0 0 137.01,166.91" fill="none" stroke="#e8141c" stroke-width="1.7"/>
<text x="26.4" y="56.1" font-size="7.8" fill="#4a4a4a" text-anchor="end" textLength="10.4" lengthAdjust="spacingAndGlyphs">40</text>
<text x="26.4" y="74.1" font-size="7.8" fill="#4a4a4a" text-anchor="end" textLength="10.4" lengthAdjust="spacingAndGlyphs">35</text>
<text x="26.4" y="91.8" font-size="7.8" fill="#4a4a4a" text-anchor="end" textLength="10.4" lengthAdjust="spacingAndGlyphs">30</text>
<text x="26.4" y="109.6" font-size="7.8" fill="#4a4a4a" text-anchor="end" textLength="10.4" lengthAdjust="spacingAndGlyphs">25</text>
<text x="26.4" y="127.7" font-size="7.8" fill="#4a4a4a" text-anchor="end" textLength="10.4" lengthAdjust="spacingAndGlyphs">20</text>
<text x="26.4" y="145.1" font-size="7.8" fill="#4a4a4a" text-anchor="end" textLength="10.4" lengthAdjust="spacingAndGlyphs">15</text>
<text x="26.4" y="162.8" font-size="7.8" fill="#4a4a4a" text-anchor="end" textLength="10.4" lengthAdjust="spacingAndGlyphs">10</text>
<text x="26.4" y="180.7" font-size="7.8" fill="#4a4a4a" text-anchor="end" textLength="5.2" lengthAdjust="spacingAndGlyphs">5</text>
<text transform="translate(42.9,209.7) rotate(-20)" font-size="8.0" fill="#555" text-anchor="middle" textLength="5.1" lengthAdjust="spacingAndGlyphs">5</text>
<text transform="translate(61.3,216.9) rotate(-20)" font-size="8.0" fill="#555" text-anchor="middle" textLength="10.2" lengthAdjust="spacingAndGlyphs">10</text>
<text transform="translate(83.8,225.0) rotate(-20)" font-size="8.0" fill="#555" text-anchor="middle" textLength="10.2" lengthAdjust="spacingAndGlyphs">15</text>
<text transform="translate(109.3,234.2) rotate(-20)" font-size="8.0" fill="#555" text-anchor="middle" textLength="10.2" lengthAdjust="spacingAndGlyphs">20</text>
<text transform="translate(138.0,246.5) rotate(-20)" font-size="8.0" fill="#555" text-anchor="middle" textLength="10.2" lengthAdjust="spacingAndGlyphs">25</text>
<text transform="translate(195.9,247.7) rotate(-12)" font-size="8.0" fill="#555" text-anchor="middle" textLength="10.0" lengthAdjust="spacingAndGlyphs" font-style="italic">20</text>
<text transform="translate(216.2,240.2) rotate(-12)" font-size="8.0" fill="#555" text-anchor="middle" textLength="10.0" lengthAdjust="spacingAndGlyphs" font-style="italic">19</text>
<text transform="translate(234.2,233.2) rotate(-12)" font-size="8.0" fill="#555" text-anchor="middle" textLength="10.0" lengthAdjust="spacingAndGlyphs" font-style="italic">18</text>
<text transform="translate(250.1,227.1) rotate(-12)" font-size="8.0" fill="#555" text-anchor="middle" textLength="10.0" lengthAdjust="spacingAndGlyphs" font-style="italic">17</text>
<text transform="translate(265.3,221.3) rotate(-12)" font-size="8.0" fill="#555" text-anchor="middle" textLength="10.0" lengthAdjust="spacingAndGlyphs" font-style="italic">16</text>
<text transform="translate(278.6,216.1) rotate(-12)" font-size="8.0" fill="#555" text-anchor="middle" textLength="10.0" lengthAdjust="spacingAndGlyphs" font-style="italic">15</text>
<text transform="translate(291.0,211.0) rotate(-12)" font-size="8.0" fill="#555" text-anchor="middle" textLength="10.0" lengthAdjust="spacingAndGlyphs" font-style="italic">14</text>
<text transform="translate(303.8,207.9) rotate(-12)" font-size="8.0" fill="#555" text-anchor="middle" textLength="10.0" lengthAdjust="spacingAndGlyphs" font-style="italic">13</text>
<text transform="translate(312.0,203.3) rotate(-12)" font-size="8.0" fill="#555" text-anchor="middle" textLength="10.0" lengthAdjust="spacingAndGlyphs" font-style="italic">12</text>
<text transform="translate(24.5,198.3) rotate(0)" font-size="8.0" fill="#555" text-anchor="middle" textLength="5.2" lengthAdjust="spacingAndGlyphs">0</text>
<text transform="translate(25.5,203.5) rotate(0)" font-size="8.0" fill="#555" text-anchor="middle" textLength="5.2" lengthAdjust="spacingAndGlyphs">0</text>
<text transform="translate(4.6,210.0) rotate(25.3)" font-size="10.4" fill="#4a4a4a" textLength="76.0" lengthAdjust="spacingAndGlyphs">Polarity dP (MPa)</text>
<text transform="translate(76.6,239.3) rotate(25.3)" font-size="6.0" fill="#4a4a4a" textLength="10.5" lengthAdjust="spacingAndGlyphs">1/2</text>
<text transform="translate(245.0,250.0) rotate(-24.2)" font-size="10.4" fill="#4a4a4a" textLength="94.5" lengthAdjust="spacingAndGlyphs">Dispersion dD (MPa)</text>
<text transform="translate(332.2,207.0) rotate(-24.2)" font-size="6.0" fill="#4a4a4a">1</text>
<defs><linearGradient id="cbR" x1="0" y1="1" x2="0" y2="0">
<stop offset="0.00" stop-color="#a50026"/>
<stop offset="0.10" stop-color="#d73027"/>
<stop offset="0.20" stop-color="#f46d43"/>
<stop offset="0.30" stop-color="#fdae61"/>
<stop offset="0.40" stop-color="#fee08b"/>
<stop offset="0.50" stop-color="#ffffbf"/>
<stop offset="0.60" stop-color="#d9ef8b"/>
<stop offset="0.70" stop-color="#a6d96a"/>
<stop offset="0.80" stop-color="#66bd63"/>
<stop offset="0.90" stop-color="#1a9850"/>
<stop offset="1.00" stop-color="#006837"/>
</linearGradient></defs>
<rect x="289.7" y="48.9" width="15.2" height="155.1" fill="url(#cbR)" stroke="none"/>
<line x1="304.6" y1="48.9" x2="304.6" y2="204" stroke="#6a6a6a" stroke-width="0.6" stroke-opacity="0.7"/>
<text x="307.0" y="207.2" font-size="8.8" fill="#555" textLength="5.0" lengthAdjust="spacingAndGlyphs">3</text>
<text x="307.0" y="181.3" font-size="8.8" fill="#555" textLength="5.0" lengthAdjust="spacingAndGlyphs">4</text>
<text x="307.0" y="155.5" font-size="8.8" fill="#555" textLength="5.0" lengthAdjust="spacingAndGlyphs">5</text>
<text x="307.0" y="129.7" font-size="8.8" fill="#555" textLength="5.0" lengthAdjust="spacingAndGlyphs">6</text>
<text x="307.0" y="103.8" font-size="8.8" fill="#555" textLength="5.0" lengthAdjust="spacingAndGlyphs">7</text>
<text x="307.0" y="78.0" font-size="8.8" fill="#555" textLength="5.0" lengthAdjust="spacingAndGlyphs">8</text>
<text x="307.0" y="52.1" font-size="8.8" fill="#555" textLength="5.0" lengthAdjust="spacingAndGlyphs">9</text>
<text x="289.8" y="42.9" font-size="8.8" fill="#555" textLength="6.3" lengthAdjust="spacingAndGlyphs">G</text>
<rect x="206.4" y="134.8" width="72.0" height="53.8" fill="#ffffff" fill-opacity="0.8"/>
<rect x="145.6" y="135.3" width="60.8" height="52.8" fill="#000"/>
<polygon points="141.8,161.7 145.8,157.7 145.8,165.7" fill="#000"/>
<text x="147.6" y="143.6" font-size="9.0" fill="#fff" font-weight="bold" textLength="57.9" lengthAdjust="spacingAndGlyphs">Ethyl acetate</text>
<text x="147.6" y="154.0" font-size="9.0" fill="#fff" font-weight="bold" textLength="31.5" lengthAdjust="spacingAndGlyphs">G = 6.7</text>
<text x="147.6" y="164.3" font-size="9.0" fill="#fff" font-weight="bold" textLength="41.4" lengthAdjust="spacingAndGlyphs">dD = 15.8</text>
<text x="147.6" y="174.7" font-size="9.0" fill="#fff" font-weight="bold" textLength="35.5" lengthAdjust="spacingAndGlyphs">dP = 5.3</text>
<text x="147.6" y="185.0" font-size="9.0" fill="#fff" font-weight="bold" textLength="35.8" lengthAdjust="spacingAndGlyphs">dH = 7.2</text>
<text x="209.3" y="143.7" font-size="9.0" fill="#333" textLength="35.1" lengthAdjust="spacingAndGlyphs" xml:space="preserve">Ra = 0.0</text>
<text x="209.3" y="154.0" font-size="9.0" fill="#333" textLength="52.5" lengthAdjust="spacingAndGlyphs" xml:space="preserve">mp  = -84 °C</text>
<text x="209.3" y="164.2" font-size="9.0" fill="#333" textLength="47.0" lengthAdjust="spacingAndGlyphs" xml:space="preserve">bp  = 77 °C</text>
<text x="209.3" y="174.5" font-size="9.0" fill="#333" textLength="65.8" lengthAdjust="spacingAndGlyphs" xml:space="preserve">η  = 0.42 mPa·s</text>
<text x="209.3" y="184.7" font-size="9.0" fill="#333" textLength="57.0" lengthAdjust="spacingAndGlyphs" xml:space="preserve">σ  = 24 mN/m</text>
</g>
</svg>
<text x="6.1" y="20.7" font-size="16.4" font-weight="bold" fill="#000" stroke="#000" stroke-width="0.5" textLength="11" lengthAdjust="spacingAndGlyphs">A</text>
<text x="2.4" y="301.6" font-size="15" font-weight="bold" fill="#000" stroke="#000" stroke-width="0.45" textLength="8.8" lengthAdjust="spacingAndGlyphs">B</text>
<path d="M175.00,300.50 A97.0,97.0 0 0 1 214.45,308.89 L204.53,331.18 A72.6,72.6 0 0 0 175.00,324.90 Z" fill="#339900" stroke="#000" stroke-width="1.6" stroke-linejoin="miter"/>
<text x="192.63" y="318.55" font-size="14.6" text-anchor="middle" fill="#000" stroke="#000" stroke-width="0.25" textLength="6.9" lengthAdjust="spacingAndGlyphs">1</text>
<path d="M214.45,308.89 A97.0,97.0 0 0 1 247.09,332.59 L228.95,348.92 A72.6,72.6 0 0 0 204.53,331.18 Z" fill="#008000" stroke="#000" stroke-width="1.6" stroke-linejoin="miter"/>
<text x="224.84" y="332.90" font-size="14.6" text-anchor="middle" fill="#000" stroke="#000" stroke-width="0.25" textLength="6.9" lengthAdjust="spacingAndGlyphs">2</text>
<path d="M247.09,332.59 A97.0,97.0 0 0 1 267.25,367.53 L244.05,375.07 A72.6,72.6 0 0 0 228.95,348.92 Z" fill="#ff0000" stroke="#000" stroke-width="1.6" stroke-linejoin="miter"/>
<text x="248.44" y="359.10" font-size="14.6" text-anchor="middle" fill="#000" stroke="#000" stroke-width="0.25" textLength="6.9" lengthAdjust="spacingAndGlyphs">3</text>
<path d="M267.25,367.53 A97.0,97.0 0 0 1 271.47,407.64 L247.20,405.09 A72.6,72.6 0 0 0 244.05,375.07 Z" fill="#008000" stroke="#000" stroke-width="1.6" stroke-linejoin="miter"/>
<text x="259.34" y="392.64" font-size="14.6" text-anchor="middle" fill="#000" stroke="#000" stroke-width="0.25" textLength="6.9" lengthAdjust="spacingAndGlyphs">4</text>
<path d="M271.47,407.64 A97.0,97.0 0 0 1 259.00,446.00 L237.87,433.80 A72.6,72.6 0 0 0 247.20,405.09 Z" fill="#ff8000" stroke="#000" stroke-width="1.6" stroke-linejoin="miter"/>
<text x="255.65" y="427.70" font-size="14.6" text-anchor="middle" fill="#000" stroke="#000" stroke-width="0.25" textLength="6.9" lengthAdjust="spacingAndGlyphs">5</text>
<path d="M259.00,446.00 A97.0,97.0 0 0 1 232.02,475.97 L217.67,456.23 A72.6,72.6 0 0 0 237.87,433.80 Z" fill="#008000" stroke="#000" stroke-width="1.6" stroke-linejoin="miter"/>
<text x="238.02" y="458.24" font-size="14.6" text-anchor="middle" fill="#000" stroke="#000" stroke-width="0.25" textLength="6.9" lengthAdjust="spacingAndGlyphs">6</text>
<path d="M232.02,475.97 A97.0,97.0 0 0 1 195.17,492.38 L190.09,468.51 A72.6,72.6 0 0 0 217.67,456.23 Z" fill="#ffbf00" stroke="#000" stroke-width="1.6" stroke-linejoin="miter"/>
<text x="209.49" y="478.97" font-size="14.6" text-anchor="middle" fill="#000" stroke="#000" stroke-width="0.25" textLength="6.9" lengthAdjust="spacingAndGlyphs">7</text>
<path d="M195.17,492.38 A97.0,97.0 0 0 1 154.83,492.38 L159.91,468.51 A72.6,72.6 0 0 0 190.09,468.51 Z" fill="#339900" stroke="#000" stroke-width="1.6" stroke-linejoin="miter"/>
<text x="175.00" y="486.30" font-size="14.6" text-anchor="middle" fill="#000" stroke="#000" stroke-width="0.25" textLength="6.9" lengthAdjust="spacingAndGlyphs">8</text>
<path d="M154.83,492.38 A97.0,97.0 0 0 1 117.98,475.97 L132.33,456.23 A72.6,72.6 0 0 0 159.91,468.51 Z" fill="#ffff00" stroke="#000" stroke-width="1.6" stroke-linejoin="miter"/>
<text x="140.51" y="478.97" font-size="14.6" text-anchor="middle" fill="#000" stroke="#000" stroke-width="0.25" textLength="6.9" lengthAdjust="spacingAndGlyphs">9</text>
<path d="M117.98,475.97 A97.0,97.0 0 0 1 78.53,407.64 L102.80,405.09 A72.6,72.6 0 0 0 132.33,456.23 Z" fill="#008000" stroke="#000" stroke-width="1.6" stroke-linejoin="miter"/>
<text x="101.56" y="443.90" font-size="14.6" text-anchor="middle" fill="#000" stroke="#000" stroke-width="0.25" textLength="13.8" lengthAdjust="spacingAndGlyphs">10</text>
<path d="M78.53,407.64 A97.0,97.0 0 0 1 102.91,332.59 L121.05,348.92 A72.6,72.6 0 0 0 102.80,405.09 Z" fill="#008000" stroke="#000" stroke-width="1.6" stroke-linejoin="miter"/>
<text x="94.35" y="375.30" font-size="14.6" text-anchor="middle" fill="#000" stroke="#000" stroke-width="0.25" textLength="13.8" lengthAdjust="spacingAndGlyphs">11</text>
<path d="M102.91,332.59 A97.0,97.0 0 0 1 175.00,300.50 L175.00,324.90 A72.6,72.6 0 0 0 121.05,348.92 Z" fill="#008000" stroke="#000" stroke-width="1.6" stroke-linejoin="miter"/>
<text x="140.51" y="324.03" font-size="14.6" text-anchor="middle" fill="#000" stroke="#000" stroke-width="0.25" textLength="13.8" lengthAdjust="spacingAndGlyphs">12</text>
<circle cx="175.0" cy="397.5" r="72.6" fill="#66b300" stroke="#000" stroke-width="1.6"/>
<text x="175.3" y="412.7" font-size="56" text-anchor="middle" fill="#000">0.8</text>
<polygon points="444.1,297.5 496.8,297.5 512.5,346.8 470.5,333.4" fill="#00ff00" stroke="#1a1a00" stroke-width="0.8" stroke-linejoin="round"/>
<polygon points="444.1,297.5 470.5,333.4 470.5,377.5 428.0,347.1" fill="#ffff00" stroke="#1a1a00" stroke-width="0.8" stroke-linejoin="round"/>
<polygon points="470.5,333.4 512.5,346.8 470.5,377.5" fill="#ffff00" stroke="#1a1a00" stroke-width="0.8" stroke-linejoin="round"/>
<polygon points="535.0,297.5 587.7,297.5 561.8,332.9 519.3,347.1" fill="#00ff00" stroke="#1a1a00" stroke-width="0.8" stroke-linejoin="round"/>
<polygon points="587.7,297.5 603.7,347.1 561.8,377.5 561.8,332.9" fill="#00ff00" stroke="#1a1a00" stroke-width="0.8" stroke-linejoin="round"/>
<polygon points="561.8,332.9 561.8,377.5 519.3,347.1" fill="#00ff00" stroke="#1a1a00" stroke-width="0.8" stroke-linejoin="round"/>
<polygon points="516.0,352.3 558.3,382.3 542.8,431.7 487.2,431.7 473.9,382.3" fill="#ffff00" stroke="#1a1a00" stroke-width="0.8" stroke-linejoin="round"/>
<ellipse cx="515.6" cy="396.2" rx="17.6" ry="11.1" fill="none" stroke="#1a1a00" stroke-width="0.8"/>
<polygon points="416.6,384.3 467.4,384.3 442.1,420.2 408.3,409.0" fill="#00ff00" stroke="#1a1a00" stroke-width="0.8" stroke-linejoin="round"/>
<polygon points="467.4,384.3 483.7,433.5 442.1,420.2" fill="#ff0000" stroke="#1a1a00" stroke-width="0.8" stroke-linejoin="round"/>
<polygon points="442.1,420.2 483.7,433.5 442.6,462.3 421.8,448.4" fill="#00ff00" stroke="#1a1a00" stroke-width="0.8" stroke-linejoin="round"/>
<polygon points="408.3,409.0 442.1,420.2 421.8,448.4 400.6,433.9" fill="#00ff00" stroke="#1a1a00" stroke-width="0.8" stroke-linejoin="round"/>
<polygon points="563.8,384.3 616.0,384.3 623.3,410.1 589.6,420.0" fill="#00ff00" stroke="#1a1a00" stroke-width="0.8" stroke-linejoin="round"/>
<polygon points="563.8,384.3 589.6,420.0 547.9,433.5" fill="#ffff00" stroke="#1a1a00" stroke-width="0.8" stroke-linejoin="round"/>
<polygon points="589.6,420.0 623.3,410.1 631.9,433.9 610.4,449.4" fill="#ffff00" stroke="#1a1a00" stroke-width="0.8" stroke-linejoin="round"/>
<polygon points="547.9,433.5 589.6,420.0 610.4,449.4 589.6,463.7" fill="#ffff00" stroke="#1a1a00" stroke-width="0.8" stroke-linejoin="round"/>
<polygon points="489.7,438.4 541.8,438.4 529.6,453.0 502.4,453.0" fill="#00ff00" stroke="#1a1a00" stroke-width="0.8" stroke-linejoin="round"/>
<polygon points="541.8,438.4 583.4,468.5 549.0,468.5 529.6,453.0" fill="#00ff00" stroke="#1a1a00" stroke-width="0.8" stroke-linejoin="round"/>
<polygon points="583.4,468.5 541.8,498.8 529.6,483.6 549.0,468.5" fill="#00ff00" stroke="#1a1a00" stroke-width="0.8" stroke-linejoin="round"/>
<polygon points="502.4,483.6 516.0,483.6 515.8,498.8 489.9,498.8" fill="#00ff00" stroke="#1a1a00" stroke-width="0.8" stroke-linejoin="round"/>
<polygon points="516.0,483.6 529.6,483.6 541.8,498.8 515.8,498.8" fill="#00ff00" stroke="#1a1a00" stroke-width="0.8" stroke-linejoin="round"/>
<polygon points="489.7,438.4 502.4,453.0 491.6,461.0 469.0,453.5" fill="#00ff00" stroke="#1a1a00" stroke-width="0.8" stroke-linejoin="round"/>
<polygon points="469.0,453.5 491.6,461.0 482.9,468.5 448.4,468.5" fill="#00ff00" stroke="#1a1a00" stroke-width="0.8" stroke-linejoin="round"/>
<polygon points="448.4,468.5 482.9,468.5 488.2,474.0 462.8,478.8" fill="#00ff00" stroke="#1a1a00" stroke-width="0.8" stroke-linejoin="round"/>
<polygon points="462.8,478.8 488.2,474.0 494.3,479.5 476.5,489.1" fill="#ffff00" stroke="#1a1a00" stroke-width="0.8" stroke-linejoin="round"/>
<polygon points="476.5,489.1 494.3,479.5 502.4,483.6 489.9,498.8" fill="#00ff00" stroke="#1a1a00" stroke-width="0.8" stroke-linejoin="round"/>
<text x="515.6" y="472.3" font-size="10" text-anchor="middle" fill="#333" textLength="32.6" lengthAdjust="spacingAndGlyphs">3.3E-01</text>
</svg>
</body></html>
